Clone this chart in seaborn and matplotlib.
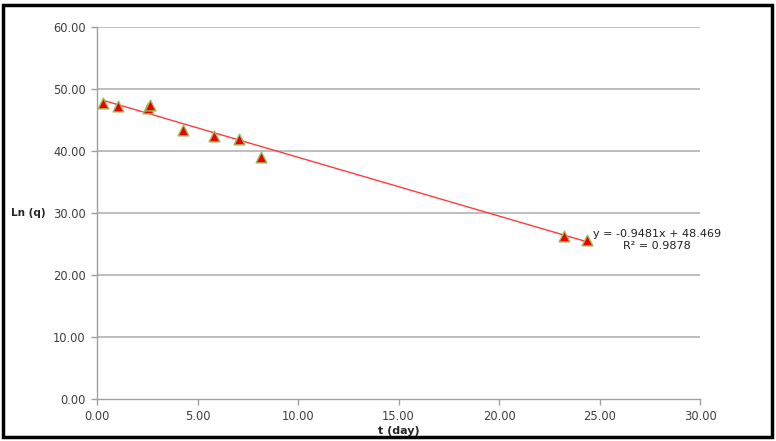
import numpy as np
import pandas as pd
import matplotlib
matplotlib.use("Agg")
import matplotlib.pyplot as plt
import seaborn as sns
from matplotlib.patches import Rectangle

# Data
t_day = [0.30, 1.04, 2.54, 2.64, 4.28, 5.82, 7.06, 8.16, 23.23, 24.38]
ln_q = [47.7, 47.3, 46.9, 47.4, 43.4, 42.4, 41.9, 39.0, 26.3, 25.6]
slope = -0.9481
intercept = 48.469
r2 = 0.9878
x_ticks = [0, 5, 10, 15, 20, 25, 30]
y_ticks = [0, 10, 20, 30, 40, 50, 60]

df = pd.DataFrame({"t": t_day, "lnq": ln_q})

sns.set_theme(style="white")
plt.rcParams['font.family'] = ['DejaVu Sans']

fig = plt.figure(figsize=(7.76, 4.41), dpi=100)
ax = fig.add_axes([97/776, 1-399/441, (700-97)/776, (399-27)/441])

# grid
for yv in y_ticks[1:]:
    ax.axhline(yv, color="#BEBEBE", lw=1.4, zorder=0)

# trendline
xs = np.array([min(t_day), max(t_day)])
ax.plot(xs, slope * xs + intercept, color="#FF3B3B", lw=1.0, zorder=2)

sns.scatterplot(data=df, x="t", y="lnq", marker="^", s=60, color="#EE0000",
                edgecolor="#9BBB59", linewidth=1.0, ax=ax, zorder=3)

ax.set_xlim(0, 30)
ax.set_ylim(0, 60)
ax.set_xticks(x_ticks)
ax.set_yticks(y_ticks)
ax.set_xticklabels([f"{v:.2f}" for v in x_ticks], fontsize=8.3, color="#404040")
ax.set_yticklabels([f"{v:.2f}" for v in y_ticks], fontsize=8.3, color="#404040")
ax.set_xlabel("t (day)", fontsize=8, fontweight="bold", labelpad=2)
ax.set_ylabel("Ln (q)", fontsize=7.5, fontweight="bold", rotation=0, labelpad=18, va="center")

for s in ["top", "right"]:
    ax.spines[s].set_visible(False)
for s in ["left", "bottom"]:
    ax.spines[s].set_color("#A0A0A0")
    ax.spines[s].set_linewidth(1.0)
ax.tick_params(axis="both", direction="out", length=4, width=1, color="#A0A0A0",
               bottom=True, left=True, pad=4)

ax.annotate(f"y = {slope}x + {intercept}\nR² = {r2}", xy=(27.85, 25.7), xycoords="data",
            ha="center", va="center", fontsize=8, color="#202020", linespacing=1.25)

fig.patches.append(Rectangle((3/776, 4/441), (772-3)/776, (436-4)/441,
                             transform=fig.transFigure, fill=False,
                             edgecolor="black", linewidth=2.5))

fig.savefig("out.png", dpi=100)
